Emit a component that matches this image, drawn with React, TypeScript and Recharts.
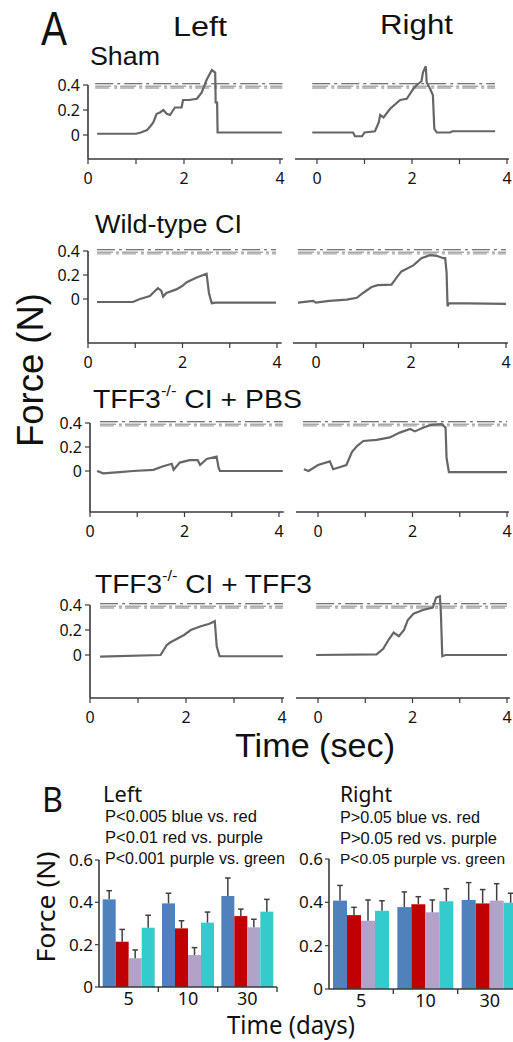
import React from 'react';
import { LineChart, Line, XAxis, YAxis, ReferenceLine, BarChart, Bar } from 'recharts';

// ---------- Part A: force traces, [time (sec), force (N)] ----------
const shamLeft: [number, number][] = [
  [0.19, 0.01], [1.0, 0.01], [1.1, 0.02], [1.23, 0.04], [1.3, 0.07], [1.36, 0.1], [1.43, 0.17], [1.5, 0.18],
  [1.57, 0.2], [1.64, 0.17], [1.71, 0.16], [1.81, 0.22], [1.95, 0.22], [1.98, 0.28], [2.1, 0.28], [2.27, 0.29],
  [2.37, 0.34], [2.47, 0.44], [2.58, 0.52], [2.65, 0.5], [2.66, 0.26], [2.69, 0.26], [2.7, 0.02], [4.04, 0.02],
];
const shamRight: [number, number][] = [
  [-0.1, 0.02], [0.76, 0.02], [0.8, -0.01], [0.95, -0.01], [1.0, 0.02], [1.22, 0.03], [1.3, 0.1], [1.33, 0.16],
  [1.4, 0.14], [1.54, 0.21], [1.75, 0.28], [1.89, 0.29], [2.03, 0.37], [2.1, 0.4], [2.2, 0.43], [2.23, 0.5],
  [2.29, 0.55], [2.31, 0.42], [2.38, 0.37], [2.44, 0.32], [2.47, 0.05], [2.52, 0.02], [2.8, 0.02], [2.85, 0.03],
  [3.75, 0.03],
];
const wtLeft: [number, number][] = [
  [0.19, -0.025], [0.95, -0.025], [1.1, 0], [1.31, 0.025], [1.4, 0.06], [1.48, 0.09], [1.55, 0.07], [1.59, 0.02],
  [1.66, 0.05], [1.87, 0.08], [2.0, 0.11], [2.09, 0.14], [2.3, 0.18], [2.51, 0.21], [2.56, 0.05], [2.6, -0.01],
  [2.62, -0.035], [2.7, -0.03], [3.98, -0.03],
];
const wtRight: [number, number][] = [
  [-0.38, -0.03], [-0.06, -0.015], [0, -0.03], [0.28, -0.015], [0.65, -0.005], [0.86, 0.01], [0.99, 0.05],
  [1.17, 0.1], [1.3, 0.115], [1.59, 0.12], [1.7, 0.18], [1.8, 0.23], [2.05, 0.28], [2.22, 0.34], [2.4, 0.365],
  [2.54, 0.36], [2.68, 0.34], [2.72, 0.34], [2.75, 0.22], [2.77, -0.06], [2.8, -0.035], [4.0, -0.04],
];
const pbsLeft: [number, number][] = [
  [0.15, 0], [0.28, -0.02], [0.63, -0.01], [0.91, 0], [1.34, 0.01], [1.55, 0.04], [1.73, 0.06], [1.77, 0.01],
  [1.9, 0.07], [2.11, 0.09], [2.28, 0.09], [2.33, 0.05], [2.47, 0.1], [2.68, 0.12], [2.72, 0.03], [2.75, 0],
  [4.08, 0],
];
const pbsRight: [number, number][] = [
  [-0.3, 0.015], [-0.2, 0], [0, 0.05], [0.25, 0.08], [0.32, 0.015], [0.6, 0.05], [0.72, 0.16], [0.83, 0.21],
  [0.96, 0.25], [1.24, 0.26], [1.52, 0.28], [1.73, 0.32], [1.95, 0.35], [2.05, 0.33], [2.22, 0.36], [2.4, 0.385],
  [2.62, 0.39], [2.7, 0.36], [2.72, 0.11], [2.77, -0.01], [4.0, -0.01],
];
const tffLeft: [number, number][] = [
  [0.21, -0.013], [1.47, 0], [1.6, 0.08], [1.67, 0.1], [1.96, 0.16], [2.1, 0.2], [2.31, 0.23], [2.49, 0.25],
  [2.6, 0.27], [2.64, 0.07], [2.7, -0.01], [4.02, -0.01],
];
const tffRight: [number, number][] = [
  [-0.04, 0], [1.24, 0.005], [1.38, 0.05], [1.49, 0.12], [1.6, 0.18], [1.71, 0.15], [1.82, 0.2], [1.9, 0.28],
  [2.02, 0.33], [2.22, 0.36], [2.43, 0.38], [2.5, 0.46], [2.58, 0.47], [2.6, 0.34], [2.63, -0.01], [2.7, 0],
  [4.0, 0],
];

// threshold lines (start, end time) per panel
const refSpans: [number, number][] = [
  [0.15, 4.05], [-0.1, 3.75], [0.19, 3.98], [-0.38, 4.0], [0.21, 4.08], [-0.32, 4.0], [0.21, 4.02], [-0.04, 4.0],
];
const thresholdDark = 0.41;
const thresholdLight = [0.39, 0.376];

const timeTicks = [0, 1, 2, 3, 4];
const timeTickLabels = ['0', '', '2', '', '4'];
const forceTicks = [0, 0.2, 0.4];
const forceTickLabels = ['0', '0.2', '0.4'];

// ---------- Part B: bars ----------
const days = ['5', '10', '30'];
const leftBlue = [0.414, 0.395, 0.43];
const leftBlueErr = [0.041, 0.048, 0.085];
const leftRed = [0.214, 0.277, 0.335];
const leftRedErr = [0.058, 0.036, 0.033];
const leftPurple = [0.136, 0.151, 0.282];
const leftPurpleErr = [0.039, 0.035, 0.038];
const leftCyan = [0.28, 0.304, 0.356];
const leftCyanErr = [0.059, 0.05, 0.058];

const rightBlue = [0.408, 0.378, 0.411];
const rightBlueErr = [0.07, 0.07, 0.08];
const rightRed = [0.341, 0.391, 0.395];
const rightRedErr = [0.036, 0.035, 0.064];
const rightPurple = [0.315, 0.354, 0.408];
const rightPurpleErr = [0.096, 0.057, 0.078];
const rightCyan = [0.361, 0.405, 0.398];
const rightCyanErr = [0.046, 0.058, 0.044];

const barTicks = [0, 0.2, 0.4, 0.6];
const barTickLabels = ['0', '0.2', '0.4', '0.6'];

const COLORS = { blue: '#4F81BD', red: '#C00000', purple: '#B3A2C8', cyan: '#33CCCC' };
const AXIS = '#3a3a3a';
const SANS = "'Liberation Sans', Arial, sans-serif";
const TICKFONT = "'Noto Sans', 'Open Sans', sans-serif";

type PanelCfg = {
  data: [number, number][];
  span: [number, number];
  left: boolean;
  x0: number; pxX: number; xMin: number; xMax: number;
  y0: number; pxY: number; yMin: number; yMax: number;
};

const panelCfgs: PanelCfg[] = [
  { data: shamLeft, span: refSpans[0], left: true, x0: 88, pxX: 48, xMin: 0, xMax: 4.06, y0: 135, pxY: 125, yMin: -0.192, yMax: 0.6 },
  { data: shamRight, span: refSpans[1], left: false, x0: 317, pxX: 47.5, xMin: -0.463, xMax: 4.04, y0: 135, pxY: 125, yMin: -0.192, yMax: 0.6 },
  { data: wtLeft, span: refSpans[2], left: true, x0: 88, pxX: 47.25, xMin: 0, xMax: 4.1, y0: 299, pxY: 120, yMin: -0.367, yMax: 0.6 },
  { data: wtRight, span: refSpans[3], left: false, x0: 316, pxX: 47.5, xMin: -0.484, xMax: 4.04, y0: 299, pxY: 120, yMin: -0.367, yMax: 0.6 },
  { data: pbsLeft, span: refSpans[4], left: true, x0: 90, pxX: 47.25, xMin: 0, xMax: 4.1, y0: 471, pxY: 120, yMin: -0.342, yMax: 0.6 },
  { data: pbsRight, span: refSpans[5], left: false, x0: 318, pxX: 47.25, xMin: -0.466, xMax: 4.04, y0: 471, pxY: 120, yMin: -0.342, yMax: 0.6 },
  { data: tffLeft, span: refSpans[6], left: true, x0: 90, pxX: 48, xMin: 0, xMax: 4.04, y0: 655, pxY: 125, yMin: -0.344, yMax: 0.6 },
  { data: tffRight, span: refSpans[7], left: false, x0: 318, pxX: 47.25, xMin: -0.466, xMax: 4.06, y0: 655, pxY: 125, yMin: -0.344, yMax: 0.6 },
];

function TracePanel({ cfg }: { cfg: PanelCfg }) {
  const { data, span, left, x0, pxX, xMin, xMax, y0, pxY, yMin, yMax } = cfg;
  const Yw = left ? 40 : 0;
  const R = 12;
  const plotLeft = x0 + xMin * pxX;
  const plotW = (xMax - xMin) * pxX;
  const plotTop = y0 - yMax * pxY;
  const plotH = (yMax - yMin) * pxY;
  const XH = 30;
  const rows = data.map(([t, f]) => ({ t, f }));
  return (
    <div style={{ position: 'absolute', left: plotLeft - Yw, top: plotTop }}>
      <LineChart width={Yw + plotW + R} height={plotH + XH} data={rows} margin={{ top: 0, right: R, left: 0, bottom: 0 }}>
        <XAxis
          type="number" dataKey="t" domain={[xMin, xMax]} ticks={timeTicks} allowDataOverflow
          tickFormatter={(v: number) => timeTickLabels[timeTicks.indexOf(v)] ?? ''}
          height={XH} tickSize={5} tickMargin={9} interval={0}
          axisLine={{ stroke: AXIS, strokeWidth: 1.6 }} tickLine={{ stroke: AXIS, strokeWidth: 1.2 }}
          tick={{ fill: '#111', fontSize: 16, fontFamily: TICKFONT }}
        />
        <YAxis
          type="number" domain={[yMin, yMax]} ticks={forceTicks} allowDataOverflow hide={!left} width={Yw}
          tickFormatter={(v: number) => forceTickLabels[forceTicks.indexOf(v)] ?? ''}
          axisLine={false} tickSize={5} tickMargin={3} interval={0}
          tickLine={{ stroke: AXIS, strokeWidth: 1.2 }}
          tick={{ fill: '#111', fontSize: 16, fontFamily: TICKFONT }}
        />
        {left && (
          <ReferenceLine
            segment={[{ x: xMin, y: yMin }, { x: xMin, y: 0.4 }]}
            stroke={AXIS} strokeWidth={1.6} ifOverflow="visible"
          />
        )}
        {thresholdLight.map((v, i) => (
          <ReferenceLine
            key={'l' + i}
            segment={[{ x: span[0], y: v }, { x: span[1], y: v }]}
            stroke="#a8a8a8" strokeWidth={1.4} strokeDasharray={i === 0 ? '16 3 3 3' : '14 5 3 3'} ifOverflow="visible"
          />
        ))}
        <ReferenceLine
          segment={[{ x: span[0], y: thresholdDark }, { x: span[1], y: thresholdDark }]}
          stroke="#4a4a4a" strokeWidth={1.1} strokeDasharray="18 4 3 4" ifOverflow="visible"
        />
        <Line
          type="linear" dataKey="f" stroke="#666666" strokeWidth={2.2} dot={false}
          isAnimationActive={false}
        />
      </LineChart>
    </div>
  );
}

function barShape(valueKey: string, errKey: string) {
  return (p: any) => {
    const { x, y, width, height, fill, payload } = p;
    const v = payload[valueKey];
    const err = payload[errKey];
    const ppu = v ? height / v : 0;
    const top = y - err * ppu;
    const cx = x + width / 2;
    return (
      <g>
        <rect x={x} y={y} width={width} height={height} fill={fill} />
        <line x1={cx} x2={cx} y1={y} y2={top} stroke="#404040" strokeWidth={1.5} />
        <line x1={cx - 2.8} x2={cx + 2.8} y1={top} y2={top} stroke="#404040" strokeWidth={1.5} />
      </g>
    );
  };
}

function DayTick(props: any) {
  const { x, y, payload, band, count } = props;
  const idx = payload?.index ?? props.index ?? 0;
  return (
    <g>
      <text x={x} y={y + 18} textAnchor="middle" fontSize={18} fontFamily={TICKFONT} fill="#111">
        {payload.value}
      </text>
      {idx < count ? (
        <line x1={x + band / 2} x2={x + band / 2} y1={y} y2={y + 5} stroke={AXIS} strokeWidth={1.4} />
      ) : null}
    </g>
  );
}

type BarCfg = {
  blue: number[]; blueErr: number[]; red: number[]; redErr: number[];
  purple: number[]; purpleErr: number[]; cyan: number[]; cyanErr: number[];
  plotLeft: number; plotW: number; plotTop: number; plotH: number; gap: number;
};

function ForceBars({ cfg }: { cfg: BarCfg }) {
  const rows = days.map((d, i) => ({
    day: d,
    blue: cfg.blue[i], blueErr: cfg.blueErr[i],
    red: cfg.red[i], redErr: cfg.redErr[i],
    purple: cfg.purple[i], purpleErr: cfg.purpleErr[i],
    cyan: cfg.cyan[i], cyanErr: cfg.cyanErr[i],
  }));
  const Yw = 45;
  const T = 12;
  const XH = 30;
  const band = cfg.plotW / days.length;
  return (
    <div style={{ position: 'absolute', left: cfg.plotLeft - Yw, top: cfg.plotTop - T }}>
      <BarChart
        width={Yw + cfg.plotW + 4} height={T + cfg.plotH + XH} data={rows}
        margin={{ top: T, right: 4, left: 0, bottom: 0 }} barCategoryGap={cfg.gap} barGap={0}
      >
        <XAxis
          dataKey="day" height={XH} tickSize={0} tickMargin={0} tickLine={false} interval={0}
          axisLine={{ stroke: AXIS, strokeWidth: 1.6 }}
          tick={<DayTick band={band} count={days.length} />}
        />
        <YAxis
          type="number" domain={[0, 0.6]} ticks={barTicks} width={Yw} interval={0}
          tickFormatter={(v: number) => barTickLabels[barTicks.indexOf(v)] ?? ''}
          tickSize={4} tickMargin={2}
          axisLine={{ stroke: AXIS, strokeWidth: 1.6 }} tickLine={{ stroke: AXIS, strokeWidth: 1.2 }}
          tick={{ fill: '#111', fontSize: 17, fontFamily: TICKFONT }}
        />
        <Bar dataKey="blue" fill={COLORS.blue} isAnimationActive={false} shape={barShape('blue', 'blueErr')} />
        <Bar dataKey="red" fill={COLORS.red} isAnimationActive={false} shape={barShape('red', 'redErr')} />
        <Bar dataKey="purple" fill={COLORS.purple} isAnimationActive={false} shape={barShape('purple', 'purpleErr')} />
        <Bar dataKey="cyan" fill={COLORS.cyan} isAnimationActive={false} shape={barShape('cyan', 'cyanErr')} />
      </BarChart>
    </div>
  );
}

const leftBarCfg: BarCfg = {
  blue: leftBlue, blueErr: leftBlueErr, red: leftRed, redErr: leftRedErr,
  purple: leftPurple, purpleErr: leftPurpleErr, cyan: leftCyan, cyanErr: leftCyanErr,
  plotLeft: 99, plotW: 178, plotTop: 860, plotH: 127, gap: 3.67,
};
const rightBarCfg: BarCfg = {
  blue: rightBlue, blueErr: rightBlueErr, red: rightRed, redErr: rightRedErr,
  purple: rightPurple, purpleErr: rightPurpleErr, cyan: rightCyan, cyanErr: rightCyanErr,
  plotLeft: 329, plotW: 193, plotTop: 859, plotH: 130, gap: 4,
};

function Txt(props: any) {
  const { children, ...rest } = props;
  return (
    <text fill="#111" fontFamily={SANS} lengthAdjust="spacingAndGlyphs" {...rest}>
      {children}
    </text>
  );
}

function Labels() {
  return (
    <svg width={513} height={1042} style={{ position: 'absolute', left: 0, top: 0, pointerEvents: 'none' }}>
      <Txt x={41} y={45} fontSize={48} textLength={26}>A</Txt>
      <Txt x={173} y={36} fontSize={27} textLength={54}>Left</Txt>
      <Txt x={380} y={34} fontSize={28} textLength={73}>Right</Txt>
      <Txt x={90} y={65} fontSize={26} textLength={70}>Sham</Txt>
      <Txt x={95} y={233} fontSize={26} textLength={147}>Wild-type CI</Txt>
      <Txt x={93} y={408} fontSize={26} textLength={209}>
        TFF3<tspan fontSize={15} dy={-12}>-/-</tspan><tspan dy={12}> CI + PBS</tspan>
      </Txt>
      <Txt x={95} y={593} fontSize={26} textLength={217}>
        TFF3<tspan fontSize={15} dy={-12}>-/-</tspan><tspan dy={12}> CI + TFF3</tspan>
      </Txt>
      <Txt x={235} y={757} fontSize={33} textLength={160}>Time (sec)</Txt>
      <Txt x={0} y={0} fontSize={36} textLength={154} textAnchor="middle" transform="translate(43,370) rotate(-90)">
        Force (N)
      </Txt>

      <Txt x={42} y={812} fontSize={34} textLength={21} fontFamily={TICKFONT}>B</Txt>
      <Txt x={103} y={802} fontSize={21} textLength={39} fontFamily={TICKFONT}>Left</Txt>
      <Txt x={340} y={802} fontSize={21} textLength={52} fontFamily={TICKFONT}>Right</Txt>
      <Txt x={105} y={822} fontSize={16.5} textLength={152}>P&lt;0.005 blue vs. red</Txt>
      <Txt x={105} y={843} fontSize={16.5} textLength={158}>P&lt;0.01 red vs. purple</Txt>
      <Txt x={105} y={864} fontSize={16.5} textLength={180}>P&lt;0.001 purple vs. green</Txt>
      <Txt x={340} y={823} fontSize={16.5} textLength={140}>P&gt;0.05 blue vs. red</Txt>
      <Txt x={340} y={844} fontSize={16.5} textLength={157}>P&gt;0.05 red vs. purple</Txt>
      <Txt x={340} y={864} fontSize={15.5} textLength={165}>P&lt;0.05 purple vs. green</Txt>
      <Txt x={227} y={1034} fontSize={26} textLength={128} fontFamily={TICKFONT}>Time (days)</Txt>
      <Txt x={0} y={0} fontSize={25} textLength={111} textAnchor="middle" fontFamily={TICKFONT} transform="translate(55,907) rotate(-90)">
        Force (N)
      </Txt>
    </svg>
  );
}

export default function App() {
  return (
    <div style={{ position: 'absolute', left: 0, top: 0, width: 513, height: 1042, overflow: 'hidden', background: '#fff' }}>
      {panelCfgs.map((c, i) => (
        <TracePanel key={i} cfg={c} />
      ))}
      <ForceBars cfg={leftBarCfg} />
      <ForceBars cfg={rightBarCfg} />
      <Labels />
    </div>
  );
}
